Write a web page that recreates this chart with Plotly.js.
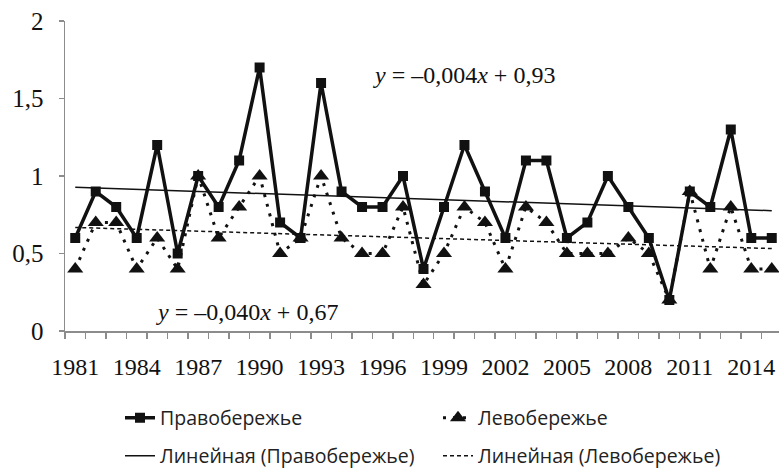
<!DOCTYPE html>
<html>
<head>
<meta charset="utf-8">
<script src="https://cdn.plot.ly/plotly-3.0.1.min.js"></script>
<style>
html,body{margin:0;padding:0;background:#fff;overflow:hidden;}
#chart{width:782px;height:472px;}
</style>
</head>
<body>
<div id="chart"></div>
<script>
// ---- data ----
const years = [1981,1982,1983,1984,1985,1986,1987,1988,1989,1990,1991,1992,1993,1994,1995,1996,1997,1998,1999,2000,2001,2002,2003,2004,2005,2006,2007,2008,2009,2010,2011,2012,2013,2014,2015];
const pravoberezhye = [0.6,0.9,0.8,0.6,1.2,0.5,1.0,0.8,1.1,1.7,0.7,0.6,1.6,0.9,0.8,0.8,1.0,0.4,0.8,1.2,0.9,0.6,1.1,1.1,0.6,0.7,1.0,0.8,0.6,0.2,0.9,0.8,1.3,0.6,0.6];
const levoberezhye  = [0.4,0.7,0.7,0.4,0.6,0.4,1.0,0.6,0.8,1.0,0.5,0.6,1.0,0.6,0.5,0.5,0.8,0.3,0.5,0.8,0.7,0.4,0.8,0.7,0.5,0.5,0.5,0.6,0.5,0.2,0.9,0.4,0.8,0.4,0.4];
const tickYears = [1981,1984,1987,1990,1993,1996,1999,2002,2005,2008,2011,2014];
const seriesNames = ['Правобережье','Левобережье','Линейная (Правобережье)','Линейная (Левобережье)'];
const eqRight = '<i>y</i> = –0,004<i>x</i> + 0,93';
const eqLeft  = '<i>y</i> = –0,040<i>x</i> + 0,67';

// least-squares linear trend (like a spreadsheet trendline), x = 1..n
function trend(ys){
  const n = ys.length; let sx=0,sy=0,sxx=0,sxy=0;
  for(let i=0;i<n;i++){const x=i+1; sx+=x; sy+=ys[i]; sxx+=x*x; sxy+=x*ys[i];}
  const b=(n*sxy-sx*sy)/(n*sxx-sx*sx); const a=(sy-b*sx)/n;
  return ys.map((_,i)=>a+b*(i+1));
}

const black = '#111111';
const axisGray = '#8c8c8c';
const serif = 'Liberation Serif, Times New Roman, serif';
const sans = 'Open Sans, Noto Sans, sans-serif';

const traces = [
  {x: years, y: levoberezhye, name: seriesNames[1], type:'scatter', mode:'lines+markers',
   line:{color:black, width:3, dash:'3px,7px'},
   marker:{symbol:'triangle-up', size:14, color:black},
   legend:'legend', legendrank:2},
  {x: years, y: pravoberezhye, name: seriesNames[0], type:'scatter', mode:'lines+markers',
   line:{color:black, width:3.5},
   marker:{symbol:'square', size:10, color:black},
   legend:'legend', legendrank:1},
  {x: years, y: trend(pravoberezhye), name: seriesNames[2], type:'scatter', mode:'lines',
   line:{color:black, width:1.5}, legend:'legend2', legendrank:1},
  {x: years, y: trend(levoberezhye), name: seriesNames[3], type:'scatter', mode:'lines',
   line:{color:black, width:1.5, dash:'4px,3px'}, legend:'legend2', legendrank:2}
];

const legendCommon = {
  orientation:'h', xanchor:'left', yanchor:'middle',
  entrywidth:273, entrywidthmode:'pixels',
  font:{family:sans, size:19.5, color:'#222'},
  bgcolor:'rgba(0,0,0,0)', borderwidth:0, traceorder:'normal'
};

const layout = {
  width:782, height:472,
  margin:{l:65, r:0, t:21, b:141, pad:0, autoexpand:false},
  paper_bgcolor:'#fff', plot_bgcolor:'#fff',
  separators:', ',
  showlegend:true,
  xaxis:{
    type:'linear', range:[1980.5, 2015.5], fixedrange:true,
    showline:true, linecolor:axisGray, linewidth:1.5,
    showgrid:false, zeroline:false,
    ticks:'', tickmode:'array', tickvals:tickYears, ticktext:tickYears.map(String),
    tickfont:{family:serif, size:24, color:black},
    ticklabelstandoff:14,
    minor:{ticks:'outside', ticklen:6, tickwidth:1.5, tickcolor:axisGray, tickmode:'linear', tick0:1980.5, dtick:1, showgrid:false}
  },
  yaxis:{
    range:[0,2], dtick:0.5, tick0:0, fixedrange:true,
    showline:true, linecolor:axisGray, linewidth:1.5,
    showgrid:false, zeroline:false,
    ticks:'outside', ticklen:5, tickwidth:1.5, tickcolor:axisGray,
    tickfont:{family:serif, size:25, color:black},
    ticklabelstandoff:10
  },
  legend: Object.assign({}, legendCommon, {x:(120-65)/717, y:(331-418)/310}),
  legend2: Object.assign({}, legendCommon, {x:(120-65)/717, y:(331-456)/310}),
  annotations:[
    {xref:'x', yref:'y', x:2000, y:1.652, text:eqRight, showarrow:false,
     font:{family:serif, size:24, color:black}},
    {xref:'x', yref:'y', x:1989.4, y:0.125, text:eqLeft, showarrow:false,
     font:{family:serif, size:24, color:black}}
  ]
};

Plotly.newPlot('chart', traces, layout, {displayModeBar:false, staticPlot:true});
</script>
</body>
</html>
